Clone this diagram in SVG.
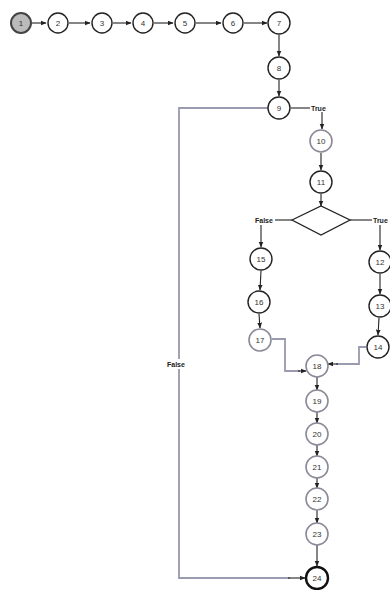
<svg xmlns="http://www.w3.org/2000/svg" width="390" height="590" viewBox="0 0 390 590">
<style>
.n{fill:#fff;stroke:#222;stroke-width:1.4}
.g{fill:#fff;stroke:#8a8a98;stroke-width:1.6}
.t{font-family:"Liberation Sans",Arial,sans-serif;font-size:8px;fill:#333;text-anchor:middle;dominant-baseline:central}
.l{font-family:"Liberation Sans",Arial,sans-serif;font-size:7px;font-weight:bold;fill:#222;dominant-baseline:central}
.e{fill:none;stroke:#222;stroke-width:1.1}
.lp{fill:none;stroke:#9a9ab0;stroke-width:1.8}
</style>
<defs>
<marker id="a" viewBox="0 0 10 10" refX="9" refY="5" markerWidth="6" markerHeight="6" orient="auto" markerUnits="userSpaceOnUse">
<path d="M0,1 L10,5 L0,9 Z" fill="#222"/>
</marker>
</defs>
<rect width="390" height="590" fill="#fff"/>
<g id="connectors">
<line class="e" x1="32" y1="23" x2="46" y2="23" marker-end="url(#a)"/>
<line class="e" x1="69" y1="23" x2="90" y2="23" marker-end="url(#a)"/>
<line class="e" x1="113" y1="23" x2="131" y2="23" marker-end="url(#a)"/>
<line class="e" x1="154" y1="23" x2="173" y2="23" marker-end="url(#a)"/>
<line class="e" x1="196" y1="23" x2="221" y2="23" marker-end="url(#a)"/>
<line class="e" x1="244" y1="23" x2="267" y2="23" marker-end="url(#a)"/>
<line class="e" x1="279" y1="35" x2="279" y2="56" marker-end="url(#a)"/>
<line class="e" x1="279" y1="80" x2="279" y2="96" marker-end="url(#a)"/>
<line class="e" x1="291" y1="108" x2="310" y2="108"/>
<line class="e" x1="322" y1="112" x2="322" y2="129" marker-end="url(#a)"/>
<line class="e" x1="321" y1="153" x2="321" y2="170" marker-end="url(#a)"/>
<line class="e" x1="321" y1="194" x2="321" y2="206" marker-end="url(#a)"/>
<line class="e" x1="292" y1="220" x2="275" y2="220"/>
<line class="e" x1="261" y1="225" x2="261" y2="247" marker-end="url(#a)"/>
<line class="e" x1="350" y1="220" x2="372" y2="220"/>
<line class="e" x1="380" y1="225" x2="380" y2="250" marker-end="url(#a)"/>
<line class="e" x1="380" y1="274" x2="380" y2="294" marker-end="url(#a)"/>
<line class="e" x1="379" y1="318" x2="378" y2="335" marker-end="url(#a)"/>
<line class="e" x1="261" y1="271" x2="260" y2="290" marker-end="url(#a)"/>
<line class="e" x1="259" y1="314" x2="260" y2="328" marker-end="url(#a)"/>
<polyline class="lp" points="272,339 285,339 285,371 300,371"/>
<line class="e" x1="298" y1="371" x2="306" y2="371" marker-end="url(#a)"/>
<polyline class="lp" points="366,347 359,347 359,364 336,364"/>
<line class="e" x1="338" y1="364" x2="328" y2="364" marker-end="url(#a)"/>
<line class="e" x1="317" y1="377" x2="317" y2="390" marker-end="url(#a)"/>
<line class="e" x1="317" y1="412" x2="317" y2="423" marker-end="url(#a)"/>
<line class="e" x1="317" y1="445" x2="317" y2="456" marker-end="url(#a)"/>
<line class="e" x1="317" y1="478" x2="317" y2="488" marker-end="url(#a)"/>
<line class="e" x1="317" y1="510" x2="317" y2="523" marker-end="url(#a)"/>
<line class="e" x1="317" y1="545" x2="317" y2="566" marker-end="url(#a)"/>
<polyline class="lp" points="268,108 179,108 179,578 290,578"/>
<line class="e" x1="288" y1="578" x2="305" y2="578" marker-end="url(#a)"/>
<text class="l" x="311" y="108">True</text>
<text class="l" x="255" y="220">False</text>
<text class="l" x="373" y="220">True</text>
<rect x="166" y="359" width="24" height="10" fill="#fff"/>
<text class="l" x="167" y="364">False</text>
</g>
<g id="n1"><circle cx="21" cy="23" r="10" fill="#bbb" stroke="#444" stroke-width="2"/><text class="t" x="21" y="23">1</text></g>
<g id="n2"><circle class="n" cx="58" cy="23" r="10"/><text class="t" x="58" y="23">2</text></g>
<g id="n3"><circle class="n" cx="102" cy="23" r="10"/><text class="t" x="102" y="23">3</text></g>
<g id="n4"><circle class="n" cx="143" cy="23" r="10"/><text class="t" x="143" y="23">4</text></g>
<g id="n5"><circle class="n" cx="185" cy="23" r="10"/><text class="t" x="185" y="23">5</text></g>
<g id="n6"><circle class="n" cx="233" cy="23" r="10"/><text class="t" x="233" y="23">6</text></g>
<g id="n7"><circle class="n" cx="279" cy="23" r="11"/><text class="t" x="279" y="23">7</text></g>
<g id="n8"><circle class="n" cx="279" cy="68" r="11"/><text class="t" x="279" y="68">8</text></g>
<g id="n9"><circle class="n" cx="279" cy="108" r="11"/><text class="t" x="279" y="108">9</text></g>
<g id="n10"><circle class="g" cx="321" cy="141" r="11"/><text class="t" x="321" y="141">10</text></g>
<g id="n11"><circle class="n" cx="321" cy="182" r="11"/><text class="t" x="321" y="182">11</text></g>
<g id="decision"><polygon points="292,220 321,206 350,220 321,235" fill="#fff" stroke="#222" stroke-width="1.3"/></g>
<g id="n15"><circle class="n" cx="261" cy="259" r="11"/><text class="t" x="261" y="259">15</text></g>
<g id="n16"><circle class="n" cx="259" cy="302" r="11"/><text class="t" x="259" y="302">16</text></g>
<g id="n17"><circle class="g" cx="260" cy="340" r="11"/><text class="t" x="260" y="340">17</text></g>
<g id="n12"><circle class="n" cx="380" cy="262" r="11"/><text class="t" x="380" y="262">12</text></g>
<g id="n13"><circle class="n" cx="380" cy="306" r="11"/><text class="t" x="380" y="306">13</text></g>
<g id="n14"><circle class="n" cx="378" cy="347" r="11"/><text class="t" x="378" y="347">14</text></g>
<g id="n18"><circle class="g" cx="317" cy="366" r="11"/><text class="t" x="317" y="366">18</text></g>
<g id="n19"><circle class="g" cx="317" cy="401" r="11"/><text class="t" x="317" y="401">19</text></g>
<g id="n20"><circle class="g" cx="317" cy="434" r="11"/><text class="t" x="317" y="434">20</text></g>
<g id="n21"><circle class="g" cx="317" cy="467" r="11"/><text class="t" x="317" y="467">21</text></g>
<g id="n22"><circle class="g" cx="317" cy="499" r="11"/><text class="t" x="317" y="499">22</text></g>
<g id="n23"><circle class="g" cx="317" cy="534" r="11"/><text class="t" x="317" y="534">23</text></g>
<g id="n24"><circle cx="317" cy="578" r="11" fill="#fff" stroke="#111" stroke-width="2.4"/><text class="t" x="317" y="578">24</text></g>
</svg>
